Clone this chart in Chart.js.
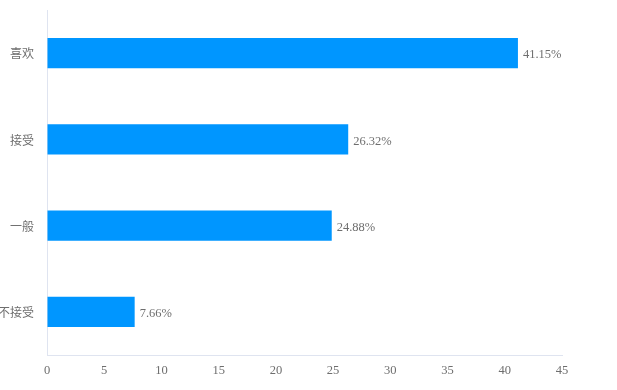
<!DOCTYPE html>
<html>
<head>
<meta charset="utf-8">
<script src="https://cdn.jsdelivr.net/npm/chart.js@4.4.1/dist/chart.umd.min.js"></script>
<style>
html,body{margin:0;padding:0;background:#fff;}
#wrap{width:617px;height:390px;}
</style>
</head>
<body>
<div id="wrap"><canvas id="c" width="617" height="390"></canvas></div>
<script>
const categories = ["喜欢", "接受", "一般", "不接受"];
const values = [41.15, 26.32, 24.88, 7.66];
const xTicks = [0, 5, 10, 15, 20, 25, 30, 35, 40, 45];

const FONT = '"Liberation Serif", "DejaVu Serif", "Noto Sans CJK SC", serif';
const AXIS = '#dfe4f0';
const TXT = '#6e6e6e';

const labelPlugin = {
  id: 'barLabels',
  afterDatasetsDraw(chart) {
    const ctx = chart.ctx;
    const meta = chart.getDatasetMeta(0);
    ctx.save();
    ctx.font = '12.5px ' + FONT;
    ctx.fillStyle = TXT;
    ctx.textAlign = 'left';
    ctx.textBaseline = 'middle';
    meta.data.forEach((bar, i) => {
      ctx.fillText(values[i].toFixed(2) + '%', bar.x + 5, bar.y + 2);
    });
    ctx.restore();
  }
};

new Chart(document.getElementById('c'), {
  type: 'bar',
  data: {
    labels: categories,
    datasets: [{
      data: values,
      backgroundColor: '#0096ff',
      borderWidth: 0,
      barPercentage: 0.35,
      categoryPercentage: 1.0
    }]
  },
  options: {
    indexAxis: 'y',
    responsive: false,
    animation: false,
    layout: { padding: { top: 10, right: 55, left: 0, bottom: 0 } },
    plugins: { legend: { display: false }, tooltip: { enabled: false } },
    scales: {
      x: {
        min: 0, max: 45,
        afterBuildTicks(scale) { scale.ticks = xTicks.map(v => ({ value: v })); },
        afterFit(scale) { scale.height = 35; scale.paddingLeft = 0; scale.paddingRight = 0; },
        grid: { drawOnChartArea: false, drawTicks: false },
        border: { color: AXIS, width: 1 },
        ticks: { padding: 8, color: TXT, font: { size: 12.5, family: FONT } }
      },
      y: {
        afterFit(scale) { scale.width = 47; scale.paddingTop = 0; scale.paddingBottom = 0; },
        grid: { drawOnChartArea: false, drawTicks: false },
        border: { color: AXIS, width: 1 },
        ticks: { padding: 13, labelOffset: 2, color: TXT, font: { size: 12, family: FONT } }
      }
    }
  },
  plugins: [labelPlugin]
});
</script>
</body>
</html>
